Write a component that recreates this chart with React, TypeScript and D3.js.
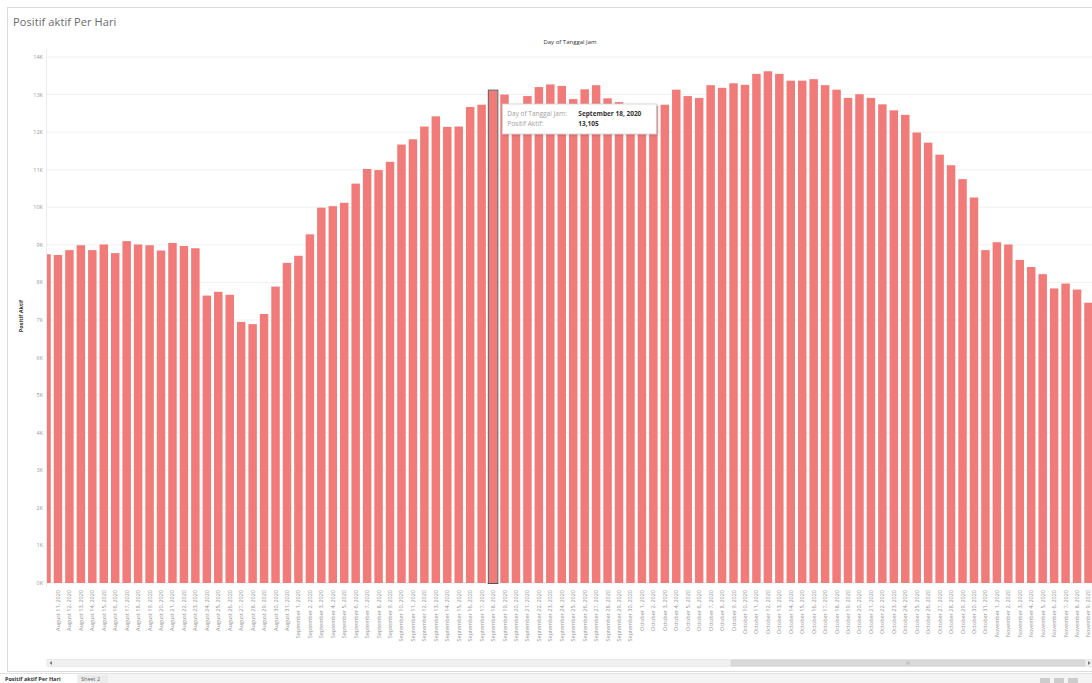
import React from "react";
import * as d3 from "d3";

// ---- data ----
const START_DATE = "2020-08-10"; // first (partly scrolled-out) day shown
const positifAktif: number[] = [
  // August 10 – August 31
  8750, 8730, 8860, 8990, 8860, 9010, 8780, 9100, 9010, 8990, 8850, 9050, 8970, 8910, 7650, 7750, 7670, 6950, 6890, 7160, 7890, 8520,
  // September 1 – September 30
  8710, 9280, 9990, 10030, 10120, 10630, 11020, 10990, 11210, 11670, 11810, 12150, 12420, 12140, 12150, 12670, 12730, 13105, 13000, 12600,
  12960, 13200, 13270, 13230, 12880, 13140, 13250, 12900, 12800, 12750,
  // October 1 – October 31
  12650, 12700, 12730, 13130, 12960, 12910, 13250, 13180, 13300, 13260, 13550, 13620, 13550, 13370, 13370, 13410, 13250, 13130, 12910, 13010,
  12910, 12740, 12580, 12460, 11990, 11720, 11400, 11120, 10750, 10260, 8860,
  // November 1 – November 9
  9070, 9010, 8600, 8410, 8220, 7840, 7970, 7810, 7460,
];
const yTicks = [0, 1000, 2000, 3000, 4000, 5000, 6000, 7000, 8000, 9000, 10000, 11000, 12000, 13000, 14000];
const chartTitle = "Positif aktif Per Hari";
const columnHeader = "Day of Tanggal Jam";
const yAxisTitle = "Positif Aktif";
const highlightDate = "2020-09-18";
const tooltipLabels = ["Day of Tanggal Jam:", "Positif Aktif:"];
const sheetTabs = ["Positif aktif Per Hari", "Sheet 2"];

const FONT = "'Open Sans', 'Noto Sans', sans-serif";
const BAR = "#f07b79";

export default function App() {
  const W = 1092;
  const H = 683;
  const start = new Date(START_DATE + "T00:00:00Z");
  const dates = positifAktif.map((_, i) => d3.utcDay.offset(start, i));
  const keyFmt = d3.utcFormat("%Y-%m-%d");
  const labelFmt = d3.utcFormat("%B %-d, %Y");
  const keys = dates.map((d) => keyFmt(d));
  const step = 11.45;
  const x = d3
    .scaleBand<string>()
    .domain(keys)
    .range([40.8, 40.8 + keys.length * step])
    .paddingInner(0.26)
    .paddingOuter(0.13);
  const y = d3.scaleLinear().domain([0, 14000]).range([583, 57]);
  const plotLeft = 47;
  const kFmt = (v: number) => `${v / 1000}K`;
  const numFmt = d3.format(",");

  const hiIdx = keys.indexOf(highlightDate);
  const hiX = x(highlightDate)!;
  const tipX = hiX + x.bandwidth() + 5;
  const tipY = 104;

  return (
    <svg
      width={W}
      height={H}
      style={{ position: "fixed", left: 0, top: 0, display: "block", background: "#fff" }}
      fontFamily={FONT}
    >
      <defs>
        <clipPath id="plotClip">
          <rect x={plotLeft} y={0} width={W - plotLeft} height={H} />
        </clipPath>
        <clipPath id="labelClip">
          <rect x={51} y={0} width={W - 51} height={H} />
        </clipPath>
        <filter id="shadow" x="-10%" y="-20%" width="130%" height="160%">
          <feDropShadow dx="1" dy="1" stdDeviation="1.2" floodColor="#000" floodOpacity="0.18" />
        </filter>
      </defs>

      {/* outer frame */}
      <rect x={7.5} y={7.5} width={W} height={664} fill="#fff" stroke="#dcdcdc" />

      {/* title */}
      <text x={13} y={26} fontSize={11} fill="#6a6a6a" letterSpacing={0.1}>
        {chartTitle}
      </text>

      {/* column header */}
      <text x={570} y={44} fontSize={6} fill="#333" textAnchor="middle">
        {columnHeader}
      </text>

      {/* gridlines */}
      {yTicks.map((t) => (
        <line key={t} x1={plotLeft} x2={W} y1={y(t)} y2={y(t)} stroke="#f1f1f1" strokeWidth={1} />
      ))}
      <line x1={plotLeft - 0.5} x2={plotLeft - 0.5} y1={50} y2={588} stroke="#ececec" />

      {/* y tick labels */}
      {yTicks.map((t) => (
        <text key={t} x={43} y={y(t) + 2} fontSize={5.5} fill="#999" textAnchor="end">
          {kFmt(t)}
        </text>
      ))}

      {/* y axis title */}
      <text
        transform={`translate(23, 316) rotate(-90)`}
        fontSize={5.5}
        fontWeight="bold"
        fill="#333"
        textAnchor="middle"
      >
        {yAxisTitle}
      </text>

      {/* bars */}
      <g clipPath="url(#plotClip)">
        {positifAktif.map((v, i) => (
          <rect
            key={keys[i]}
            x={x(keys[i])}
            y={y(v)}
            width={x.bandwidth()}
            height={y(0) - y(v)}
            fill={BAR}
          />
        ))}
        {hiIdx >= 0 && (
          <rect
            x={hiX - 0.5}
            y={y(positifAktif[hiIdx]) - 0.5}
            width={x.bandwidth() + 1}
            height={y(0) - y(positifAktif[hiIdx]) + 1}
            fill="none"
            stroke="#555"
            strokeWidth={1}
          />
        )}
      </g>

      {/* x labels */}
      <g clipPath="url(#labelClip)">
        {keys.map((k, i) => (
          <text
            key={k}
            transform={`translate(${x(k)! + x.bandwidth() / 2 + 2}, 590) rotate(-90)`}
            fontSize={5.5}
            fill="#929292"
            textAnchor="end"
          >
            {labelFmt(dates[i])}
          </text>
        ))}
      </g>

      {/* tooltip */}
      <g filter="url(#shadow)">
        <rect x={tipX} y={tipY} width={154} height={30} fill="#fff" stroke="#cfcfcf" strokeWidth={0.8} />
      </g>
      <text x={tipX + 5} y={tipY + 12} fontSize={6.5} fill="#a0a0a0">
        {tooltipLabels[0]}
      </text>
      <text x={tipX + 76} y={tipY + 12} fontSize={6.5} fill="#333" fontWeight="bold">
        {labelFmt(dates[hiIdx])}
      </text>
      <text x={tipX + 5} y={tipY + 22} fontSize={6.5} fill="#a0a0a0">
        {tooltipLabels[1]}
      </text>
      <text x={tipX + 76} y={tipY + 22} fontSize={6.5} fill="#333" fontWeight="bold">
        {numFmt(positifAktif[hiIdx])}
      </text>

      {/* horizontal scrollbar */}
      <rect x={47} y={659.5} width={W - 47} height={7} fill="#f0f0f0" stroke="#e0e0e0" strokeWidth={0.6} />
      <rect x={731} y={660} width={354} height={6} rx={1} fill="#dadada" stroke="#c8c8c8" strokeWidth={0.5} />
      <line x1={907} x2={907} y1={661.5} y2={664.5} stroke="#999" strokeWidth={0.6} />
      <line x1={909} x2={909} y1={661.5} y2={664.5} stroke="#999" strokeWidth={0.6} />
      <path d="M52,661 L49.5,663 L52,665 Z" fill="#777" />
      <path d="M1088,661 L1090.5,663 L1088,665 Z" fill="#777" />

      {/* sheet tabs */}
      <rect x={0} y={673} width={W} height={10} fill="#f4f4f4" />
      <line x1={0} x2={W} y1={673.5} y2={673.5} stroke="#e2e2e2" />
      <rect x={0} y={674} width={77} height={9} fill="#fff" />
      <text x={5} y={681} fontSize={5.5} fill="#333" fontWeight="bold">
        {sheetTabs[0]}
      </text>
      <rect x={78} y={675} width={30} height={8} fill="#ececec" />
      <text x={81} y={681} fontSize={5.5} fill="#666">
        {sheetTabs[1]}
      </text>
      <rect x={1040} y={678} width={10} height={5} fill="#ccc" />
      <rect x={1054} y={678} width={10} height={5} fill="#ccc" />
      <rect x={1068} y={678} width={10} height={5} fill="#ccc" />
    </svg>
  );
}
